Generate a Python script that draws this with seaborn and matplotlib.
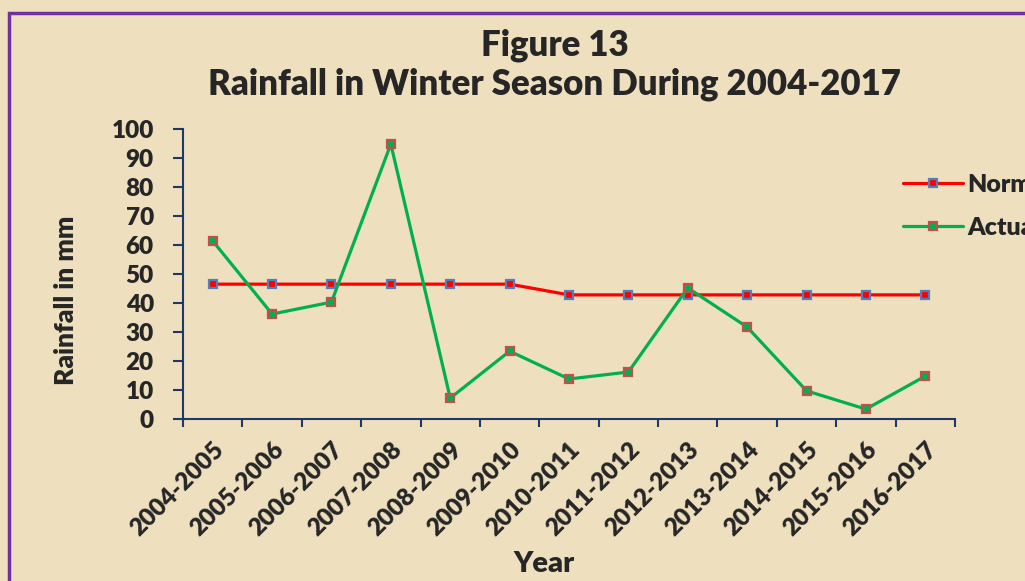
import matplotlib
matplotlib.use('Agg')
import matplotlib.pyplot as plt
import numpy as np
import pandas as pd
import seaborn as sns
from matplotlib.patches import Rectangle

YEARS = ['2004-2005', '2005-2006', '2006-2007', '2007-2008', '2008-2009',
         '2009-2010', '2010-2011', '2011-2012', '2012-2013', '2013-2014',
         '2014-2015', '2015-2016', '2016-2017']
NORMAL = [46.5, 46.5, 46.5, 46.5, 46.5, 46.5,
          42.8, 42.8, 42.8, 42.8, 42.8, 42.8, 42.8]
ACTUAL = [61.4, 36.2, 40.3, 94.8, 7.2, 23.4, 13.8,
          16.2, 45.2, 31.7, 9.7, 3.4, 14.8]
SERIES = ['Normal', 'Actual']

BG = '#EEDFBE'
AXIS_COL = '#1F3864'
W = 'heavy'

sns.set_theme(style='white')
plt.rcParams['font.family'] = ['Lato', 'DejaVu Sans']

df = pd.DataFrame({
    'Year': YEARS * 2,
    'Rainfall': NORMAL + ACTUAL,
    'Series': [SERIES[0]] * len(YEARS) + [SERIES[1]] * len(YEARS),
})

fig = plt.figure(figsize=(10.25, 5.81), dpi=100)
fig.patch.set_facecolor(BG)
# purple frame (left/top visible, rest cropped off like the source)
fig.add_artist(Rectangle((9 / 1025, -0.1), 1.2, (581 - 13) / 581 + 0.1,
                         transform=fig.transFigure, fill=False,
                         edgecolor='#7030A0', linewidth=2.5))

ax = fig.add_axes([183 / 1025, 1 - 419 / 581, (955 - 183) / 1025, (419 - 129) / 581])
ax.set_facecolor(BG)

styles = {
    'Normal': dict(color='#FF0000', mfc='#FF0000', mec='#4F81BD'),
    'Actual': dict(color='#00B050', mfc='#00B050', mec='#C0504D'),
}
for name in SERIES:
    st = styles[name]
    sns.lineplot(data=df[df['Series'] == name], x='Year', y='Rainfall',
                 color=st['color'], linewidth=2.3, marker='s', markersize=6,
                 markerfacecolor=st['mfc'], markeredgecolor=st['mec'],
                 markeredgewidth=1.6, label=name, ax=ax, sort=False)

ax.set_ylim(0, 100)
ax.set_xlim(-0.5, len(YEARS) - 0.5)
ax.set_yticks(np.arange(0, 101, 10))
ax.set_xticks(range(len(YEARS)))
ax.set_xticklabels(YEARS, rotation=45, ha='right', rotation_mode='anchor',
                   fontsize=17.5, fontweight=W)
ax.set_xticks(np.arange(-0.5, len(YEARS), 1), minor=True)
ax.tick_params(axis='x', which='major', length=0, pad=14)
ax.tick_params(axis='x', which='minor', length=6, width=1.5, color=AXIS_COL,
               direction='out', bottom=True)
ax.tick_params(axis='y', length=7, width=1.5, color=AXIS_COL, direction='out',
               left=True, labelsize=17.5, pad=14)
for lab in ax.get_yticklabels():
    lab.set_fontweight(W)

for side in ['top', 'right']:
    ax.spines[side].set_visible(False)
for side in ['left', 'bottom']:
    ax.spines[side].set_color(AXIS_COL)
    ax.spines[side].set_linewidth(1.5)

ax.set_xlabel('')
ax.set_ylabel('')
fig.text(66 / 1025, 1 - 300 / 581, 'Rainfall in mm', rotation=90, ha='center',
         va='center', fontsize=19, fontweight=W)
fig.text(544 / 1025, 1 - 564 / 581, 'Year', ha='center', va='center',
         fontsize=21, fontweight=W)
fig.text(555 / 1025, 1 - 45 / 581, 'Figure 13', ha='center', va='center',
         fontsize=25, fontweight=W)
fig.text(554 / 1025, 1 - 84 / 581, 'Rainfall in Winter Season During 2004-2017',
         ha='center', va='center', fontsize=25, fontweight=W)

leg = ax.legend(loc='upper left', bbox_to_anchor=(895 / 1025, 1 - 166 / 581),
                bbox_transform=fig.transFigure, frameon=False, fontsize=18,
                handlelength=2.4, handletextpad=0.2, labelspacing=0.85,
                borderaxespad=0, borderpad=0.3)
for t in leg.get_texts():
    t.set_fontweight(W)

fig.savefig('out.png', dpi=100, facecolor=BG)
